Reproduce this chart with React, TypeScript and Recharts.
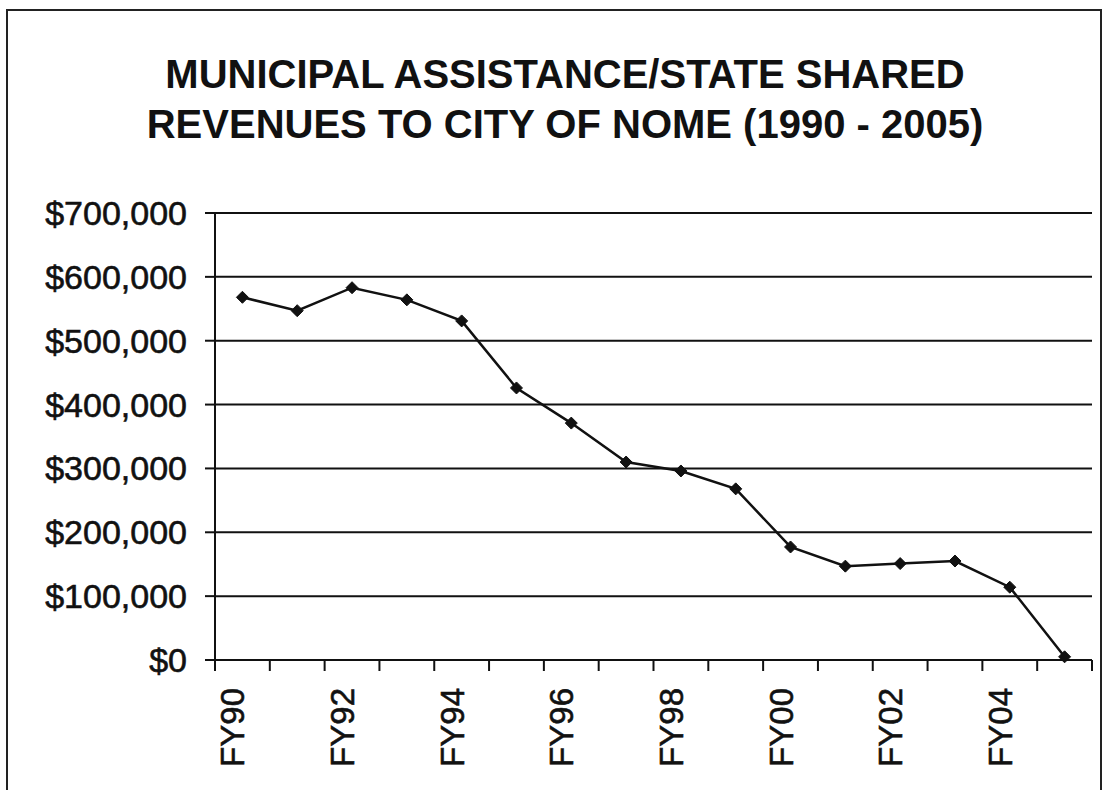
import React from "react";
import {
  LineChart,
  Line,
  XAxis,
  YAxis,
  CartesianGrid,
} from "recharts";

const years = [
  "FY90", "FY91", "FY92", "FY93", "FY94", "FY95", "FY96", "FY97",
  "FY98", "FY99", "FY00", "FY01", "FY02", "FY03", "FY04", "FY05",
];

const revenues = [
  568000, 547000, 583000, 564000, 531000, 426000, 371000, 310000,
  296000, 268000, 177000, 147000, 151000, 155000, 114000, 5000,
];

const yTicks = [0, 100000, 200000, 300000, 400000, 500000, 600000, 700000];

const titleLines = [
  "MUNICIPAL ASSISTANCE/STATE SHARED",
  "REVENUES TO CITY OF NOME (1990 - 2005)",
];

const W = 1103;
const H = 790;
const PLOT_LEFT = 215;
const PLOT_RIGHT = 1092;
const PLOT_TOP = 213;
const PLOT_BOTTOM = 660;
const BAND = (PLOT_RIGHT - PLOT_LEFT) / years.length;
const FONT = "'Liberation Sans', Arial, Helvetica, sans-serif";

const chartData = years.map((fy, i) => ({ fy, value: revenues[i] }));

const money = (v: number) => "$" + v.toLocaleString("en-US");

const XTick = (props: any) => {
  const { x, y, payload, index } = props;
  const left = x - BAND / 2;
  return (
    <g>
      <line x1={left} y1={y} x2={left} y2={y + 11} stroke="#111" strokeWidth={2} />
      {index === years.length - 1 && (
        <line x1={x + BAND / 2} y1={y} x2={x + BAND / 2} y2={y + 11} stroke="#111" strokeWidth={2} />
      )}
      {index % 2 === 0 && (
        <text
          transform={`translate(${x + 2},${y + 28}) rotate(-90)`}
          textAnchor="end"
          fontFamily={FONT}
          fontSize={33}
          fill="#111"
          stroke="#111"
          strokeWidth={0.6}
        >
          {payload.value}
        </text>
      )}
    </g>
  );
};

const Diamond = (props: any) => {
  const { cx, cy } = props;
  if (cx == null || cy == null) return null;
  const s = 6;
  return (
    <polygon
      points={`${cx},${cy - s} ${cx + s},${cy} ${cx},${cy + s} ${cx - s},${cy}`}
      fill="#111"
      stroke="#111"
      strokeWidth={1}
    />
  );
};

export default function App() {
  return (
    <div
      style={{
        position: "absolute",
        left: 0,
        top: 0,
        width: W,
        height: H,
        background: "#fff",
        overflow: "hidden",
      }}
    >
      <div
        style={{
          position: "absolute",
          left: 6,
          top: 9,
          width: 1092,
          height: 820,
          border: "2px solid #222",
        }}
      />
      {titleLines.map((t, i) => (
        <div
          key={t}
          style={{
            position: "absolute",
            left: 0,
            width: 1130,
            top: 49 + i * 50,
            lineHeight: "50px",
            textAlign: "center",
            fontFamily: FONT,
            fontWeight: "bold",
            fontSize: 40,
            color: "#111",
            whiteSpace: "nowrap",
          }}
        >
          {t}
        </div>
      ))}
      <div style={{ position: "absolute", left: 0, top: 0 }}>
        <LineChart
          width={W}
          height={H}
          data={chartData}
          margin={{ top: PLOT_TOP, right: W - PLOT_RIGHT, left: 0, bottom: 0 }}
        >
          <CartesianGrid
            yAxisId="left"
            vertical={false}
            stroke="#111"
            strokeWidth={2}
          />
          <XAxis
            dataKey="fy"
            interval={0}
            height={H - PLOT_BOTTOM}
            padding={{ left: BAND / 2, right: BAND / 2 }}
            tickSize={0}
            tickMargin={0}
            tickLine={false}
            axisLine={{ stroke: "#111", strokeWidth: 2 }}
            tick={<XTick />}
          />
          <YAxis
            yAxisId="left"
            width={PLOT_LEFT}
            domain={[0, 700000]}
            ticks={yTicks}
            interval={0}
            tickFormatter={money}
            tickSize={10}
            tickMargin={18}
            axisLine={{ stroke: "#111", strokeWidth: 2 }}
            tickLine={{ stroke: "#111", strokeWidth: 2 }}
            tick={{
              fill: "#111",
              fontSize: 34,
              fontFamily: FONT,
              stroke: "#111",
              strokeWidth: 0.6,
            }}
          />
          <YAxis
            yAxisId="right"
            orientation="right"
            width={0}
            domain={[0, 700000]}
            tick={false}
            tickLine={false}
            axisLine={{ stroke: "#111", strokeWidth: 2 }}
          />
          <Line
            yAxisId="left"
            type="linear"
            dataKey="value"
            stroke="#111"
            strokeWidth={2.5}
            dot={<Diamond />}
            activeDot={false}
            isAnimationActive={false}
          />
        </LineChart>
      </div>
    </div>
  );
}
